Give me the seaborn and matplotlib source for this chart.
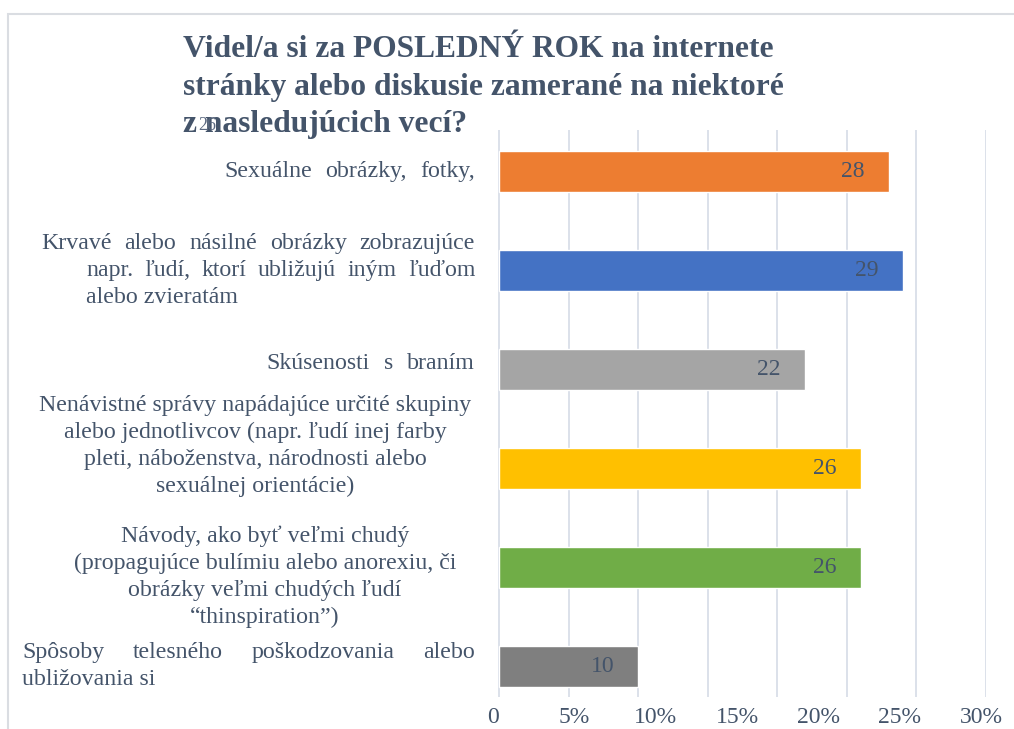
import numpy as np
import pandas as pd
import seaborn as sns
import matplotlib.pyplot as plt
from matplotlib.patches import Rectangle
from matplotlib.transforms import IdentityTransform

# data
label_lines = [
    ["Sexuálne obrázky, fotky,"],
    ["Krvavé alebo násilné obrázky zobrazujúce",
     "napr. ľudí, ktorí ubližujú iným ľuďom",
     "alebo zvieratám"],
    ["Skúsenosti s braním"],
    ["Nenávistné správy napádajúce určité skupiny",
     "alebo jednotlivcov (napr. ľudí inej farby",
     "pleti, náboženstva, národnosti alebo",
     "sexuálnej orientácie)"],
    ["Návody, ako byť veľmi chudý",
     "(propagujúce bulímiu alebo anorexiu, či",
     "obrázky veľmi chudých ľudí",
     "“thinspiration”)"],
    ["Spôsoby telesného poškodzovania alebo",
     "ubližovania si"],
]
categories = [" ".join(lines) for lines in label_lines]
percent = [28, 29, 22, 26, 26, 10]
value_labels = ["28", "29", "22", "26", "26", "10"]
bar_colors = ["#ED7D31", "#4472C4", "#A5A5A5", "#FFC000", "#70AD47", "#7F7F7F"]
tick_labels = ["0", "5%", "10%", "15%", "20%", "25%", "30%"]
title = ("Videl/a si za POSLEDNÝ ROK na internete\n"
         "stránky alebo diskusie zamerané na niektoré\n"
         "z nasledujúcich vecí?")

# how each label line is set: (mode, left x in px); j = justified, l = left, c = centered
line_layout = [
    [("j", 224)],
    [("j", 41), ("j", 86), ("l", 86)],
    [("j", 266)],
    [("c", 255)] * 4,
    [("c", 265)] * 4,
    [("j", 22), ("l", 22)],
]
# vertical nudge of each label block (px, + is down)
block_shift = [0, 0, -6, -22, 10, 0]

text_color = "#44546A"
W, H = 1014, 729

sns.set_theme(style="white")
plt.rcParams["font.family"] = ["Liberation Serif", "DejaVu Serif"]

fig, ax = plt.subplots(figsize=(W / 100, H / 100), dpi=100)
fig.subplots_adjust(left=493 / W, right=986 / W, top=1 - 130 / H, bottom=1 - 697 / H)

df = pd.DataFrame({"category": categories, "percent": percent})
sns.barplot(data=df, x="percent", y="category", hue="category",
            palette=bar_colors, saturation=1, legend=False, width=0.414, ax=ax)

ax.set_xlim(0, 35)
ax.set_ylim(5.31, -0.414)
ax.set_xlabel("")
ax.set_ylabel("")
ax.set_yticks([])
sns.despine(ax=ax, left=True, bottom=True)

# gridlines every 5 %, tick labels sit a bit off the grid like in the source
ax.set_xticks(np.arange(0, 36, 5))
ax.set_xticklabels([])
ax.set_xticks(np.arange(len(tick_labels)) * 5.85 - 0.46, minor=True)
ax.set_xticklabels(tick_labels, minor=True, fontsize=17, color=text_color)
ax.tick_params(axis="x", which="both", length=0, pad=7)
ax.xaxis.grid(True, which="major", color="#DCE1EA", lw=1.4)
ax.set_axisbelow(True)

# value labels inside the bars
for i, (v, lab) in enumerate(zip(percent, value_labels)):
    ax.text(v - 2.6, i, lab, ha="center", va="center", fontsize=17, color=text_color)

# title and a stray label on top of it
fig.text(183 / W, 1 - 35 / H, title, ha="left", va="top", fontsize=22.7,
         fontweight="bold", color=text_color, linespacing=1.39)
fig.text(207 / W, 1 - 125 / H, "26", ha="center", va="center", fontsize=13,
         color="#5A6880", zorder=5)

# chart border (open on right and bottom)
fig.add_artist(Rectangle((8 / W, -0.05), 1.1, 1 - 14 / H + 0.05, transform=fig.transFigure,
                         fill=False, edgecolor="#DADDE2", lw=1.5))

# category labels
renderer = fig.canvas.get_renderer()
lab_size = 17.2
line_h = 27
x_right = 475


def draw_line(text, mode, x_left, y):
    kw = dict(fontsize=lab_size, color=text_color, va="center", transform=IdentityTransform())
    if mode == "c":
        fig.text(x_left, y, text, ha="center", **kw)
    elif mode == "l":
        fig.text(x_left, y, text, ha="left", **kw)
    else:
        words = text.split()
        items = [fig.text(0, y, w, ha="left", **kw) for w in words]
        widths = [t.get_window_extent(renderer).width for t in items]
        min_gap = lab_size * 0.35
        if len(words) > 1:
            gap = max((x_right - x_left - sum(widths)) / (len(words) - 1), min_gap)
        else:
            gap = 0
        x = x_right - sum(widths) - gap * (len(words) - 1)
        for t, w in zip(items, widths):
            t.set_x(x)
            x += w + gap


for i, (lines, layout) in enumerate(zip(label_lines, line_layout)):
    yc = ax.transData.transform((0, i))[1] - block_shift[i]
    n = len(lines)
    for k, (line, (mode, xl)) in enumerate(zip(lines, layout)):
        draw_line(line, mode, xl, yc + ((n - 1) / 2 - k) * line_h)

fig.savefig("out.png", dpi=100)
